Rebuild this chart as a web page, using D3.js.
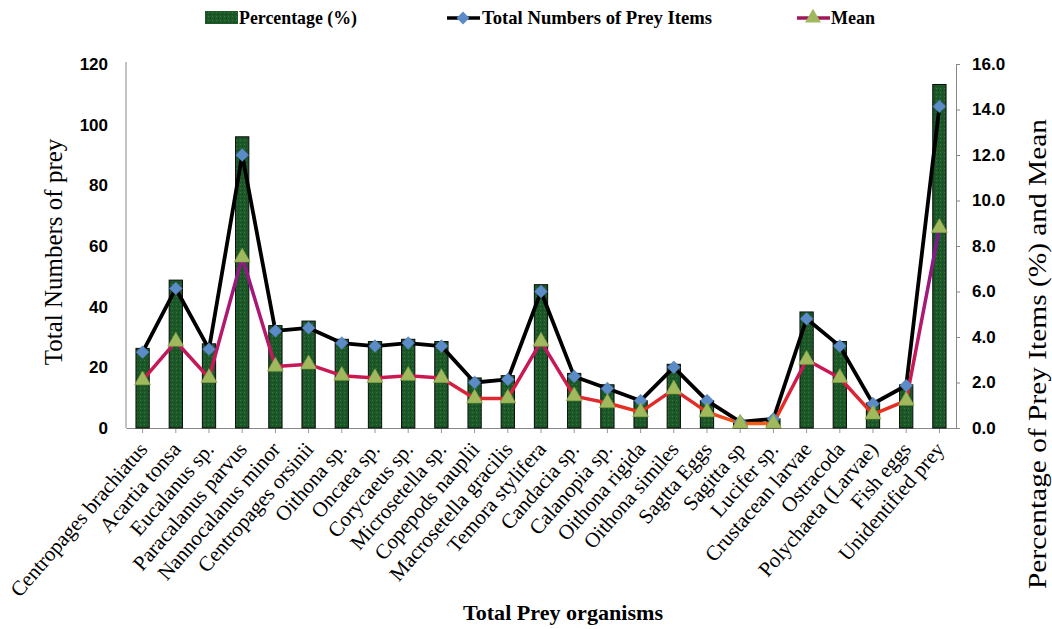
<!DOCTYPE html>
<html><head><meta charset="utf-8">
<script src="https://cdn.jsdelivr.net/npm/d3@7"></script>
<style>body{margin:0;background:#fff}svg{display:block}</style>
</head><body>
<svg id="c" width="1052" height="629"></svg>
<script>
const categories = ["Centropages brachiatus","Acartia tonsa","Eucalanus sp.","Paracalanus parvus","Nannocalanus minor","Centropages orsinii","Oithona sp.","Oncaea sp.","Corycaeus sp.","Microsetella sp.","Copepods nauplii","Macrosetella gracilis","Temora stylifera","Candacia sp.","Calanopia sp.","Oithona rigida","Oithona similes","Sagtta Eggs","Sagitta sp","Lucifer sp.","Crustacean larvae","Ostracoda","Polychaeta (Larvae)","Fish eggs","Unidentified prey"];
const percentage = [3.5,6.5,3.7,12.8,4.5,4.7,3.9,3.8,3.9,3.8,2.2,2.3,6.3,2.4,1.9,1.2,2.8,1.2,0.3,0.4,5.1,3.8,1.1,1.9,15.1];
const totalPrey = [25,46,26,90,32,33,28,27,28,27,15,16,45,17,13,9,20,9,2,3,36,27,8,14,106];
const meanValues = [2.1,3.8,2.2,7.5,2.7,2.8,2.3,2.2,2.3,2.2,1.3,1.3,3.8,1.4,1.1,0.7,1.7,0.7,0.2,0.2,3.0,2.2,0.6,1.2,8.8];
const leftTicks = [0,20,40,60,80,100,120];
const rightTicks = [0,2,4,6,8,10,12,14,16];
const legendLabels = ["Percentage (%)","Total Numbers of Prey Items","Mean"];

const svg = d3.select("#c");
const L = 126, R = 956, T = 64, B = 428;
const x = d3.scaleBand().domain(categories).range([L, R]).paddingInner(0.6).paddingOuter(0.3);
const yL = d3.scaleLinear().domain([0,120]).range([B, T]);
const yR = d3.scaleLinear().domain([0,16]).range([B, T]);
const cx = d => x(d) + x.bandwidth()/2;

const defs = svg.append("defs");
const pat = defs.append("pattern").attr("id","tex").attr("patternUnits","userSpaceOnUse").attr("width",4).attr("height",4);
pat.append("rect").attr("width",4).attr("height",4).attr("fill","#1c5828");
pat.append("rect").attr("x",0).attr("y",0).attr("width",1).attr("height",1).attr("fill","#2f7a3c");
pat.append("rect").attr("x",2).attr("y",2).attr("width",1).attr("height",1).attr("fill","#12421b");
const grad = defs.append("linearGradient").attr("id","mg").attr("gradientUnits","userSpaceOnUse")
  .attr("x1",0).attr("y1",T).attr("x2",0).attr("y2",B);
grad.append("stop").attr("offset","0%").attr("stop-color","#3a1aa8");
grad.append("stop").attr("offset","45%").attr("stop-color","#781a92");
grad.append("stop").attr("offset","70%").attr("stop-color","#b01872");
grad.append("stop").attr("offset","86%").attr("stop-color","#cc1850");
grad.append("stop").attr("offset","95%").attr("stop-color","#e8301e");
grad.append("stop").attr("offset","100%").attr("stop-color","#f07018");

// axes lines
svg.append("line").attr("x1",L).attr("x2",L).attr("y1",T-2).attr("y2",B).attr("stroke","#888").attr("stroke-width",1);
const rAxis = svg.append("g").attr("transform",`translate(${R},0)`).call(d3.axisRight(yR).tickValues(rightTicks).tickSize(4).tickFormat(d3.format(".1f")));
rAxis.select(".domain").attr("stroke","#888");
rAxis.selectAll(".tick line").attr("stroke","#888");
rAxis.selectAll(".tick text").attr("x",16).attr("font-family","Liberation Sans, Arial, sans-serif").attr("font-weight","bold").attr("font-size",17).attr("fill","#000");

const lAxis = svg.append("g").attr("transform",`translate(${L},0)`).call(d3.axisLeft(yL).tickValues(leftTicks).tickSize(0));
lAxis.select(".domain").remove();
lAxis.selectAll(".tick text").attr("x",-18).attr("font-family","Liberation Sans, Arial, sans-serif").attr("font-weight","bold").attr("font-size",17).attr("fill","#000");

const xAxis = svg.append("g").attr("transform",`translate(0,${B})`).call(d3.axisBottom(x).tickSize(5).tickSizeOuter(0));
xAxis.select(".domain").attr("stroke","#888");
xAxis.selectAll(".tick line").attr("stroke","#999");
xAxis.selectAll(".tick text").attr("font-family","Liberation Serif, Times New Roman, serif").attr("font-size",21).attr("fill","#000")
  .attr("text-anchor","end").attr("dy",0).attr("y",0).attr("transform","translate(6,22) rotate(-49)");

// bars
svg.append("g").selectAll("rect").data(categories).join("rect")
  .attr("x", d => x(d)).attr("width", x.bandwidth())
  .attr("y", (d,i) => yR(percentage[i])).attr("height", (d,i) => B - yR(percentage[i]))
  .attr("fill","url(#tex)").attr("stroke","#0a0a0a").attr("stroke-width",1);

// total line
const lineT = d3.line().x((d,i)=>cx(categories[i])).y(d=>yL(d));
svg.append("path").datum(totalPrey).attr("d",lineT).attr("fill","none").attr("stroke","#000").attr("stroke-width",3.8).attr("stroke-linejoin","round");
// mean line
const lineM = d3.line().x((d,i)=>cx(categories[i])).y(d=>yR(d));
svg.append("path").datum(meanValues).attr("d",lineM).attr("fill","none").attr("stroke","url(#mg)").attr("stroke-width",3.5).attr("stroke-linejoin","round");

const diamond = d3.symbol().type(d3.symbolSquare).size(82);
svg.append("g").selectAll("path").data(totalPrey).join("path")
  .attr("d", diamond).attr("transform",(d,i)=>`translate(${cx(categories[i])},${yL(d)}) rotate(45)`)
  .attr("fill","#5b8cc8").attr("stroke","#4a78b0").attr("stroke-width",0.6);
const tri = d3.symbol().type(d3.symbolTriangle).size(110);
svg.append("g").selectAll("path").data(meanValues).join("path")
  .attr("d", tri).attr("transform",(d,i)=>`translate(${cx(categories[i])},${yR(d)})`)
  .attr("fill","#9fb95c").attr("stroke","#8aa54a").attr("stroke-width",0.6);

// axis titles
svg.append("text").attr("transform","translate(62,252) rotate(-90)").attr("text-anchor","middle")
  .attr("font-family","Liberation Serif, Times New Roman, serif").attr("font-size",25).attr("fill","#000").text("Total Numbers of prey");
svg.append("text").attr("transform","translate(1046,354) rotate(-90)").attr("text-anchor","middle")
  .attr("font-family","Liberation Serif, Times New Roman, serif").attr("font-size",26).attr("fill","#000")
  .attr("textLength",470).attr("lengthAdjust","spacingAndGlyphs").text("Percentage of Prey Items (%) and Mean");
svg.append("text").attr("x",563).attr("y",620).attr("text-anchor","middle")
  .attr("font-family","Liberation Serif, Times New Roman, serif").attr("font-weight","bold").attr("font-size",22).attr("fill","#000").attr("textLength",200).attr("lengthAdjust","spacingAndGlyphs").text("Total Prey organisms");

// legend
const lg = svg.append("g").attr("font-family","Liberation Serif, Times New Roman, serif").attr("font-weight","bold").attr("font-size",19).attr("fill","#000");
lg.append("rect").attr("x",205).attr("y",11).attr("width",33).attr("height",13).attr("fill","url(#tex)");
lg.append("text").attr("x",239).attr("y",24).attr("textLength",118).attr("lengthAdjust","spacingAndGlyphs").text(legendLabels[0]);
lg.append("line").attr("x1",447).attr("x2",480).attr("y1",18).attr("y2",18).attr("stroke","#000").attr("stroke-width",3.5);
lg.append("path").attr("d",diamond).attr("transform","translate(463,18) rotate(45)").attr("fill","#5b8cc8");
lg.append("text").attr("x",482).attr("y",24).attr("textLength",230).attr("lengthAdjust","spacingAndGlyphs").text(legendLabels[1]);
lg.append("line").attr("x1",797).attr("x2",830).attr("y1",18).attr("y2",18).attr("stroke","#a0185a").attr("stroke-width",3.5);
lg.append("path").attr("d",tri).attr("transform","translate(813,18)").attr("fill","#9fb95c");
lg.append("text").attr("x",831).attr("y",24).attr("textLength",44).attr("lengthAdjust","spacingAndGlyphs").text(legendLabels[2]);
</script>
</body></html>
